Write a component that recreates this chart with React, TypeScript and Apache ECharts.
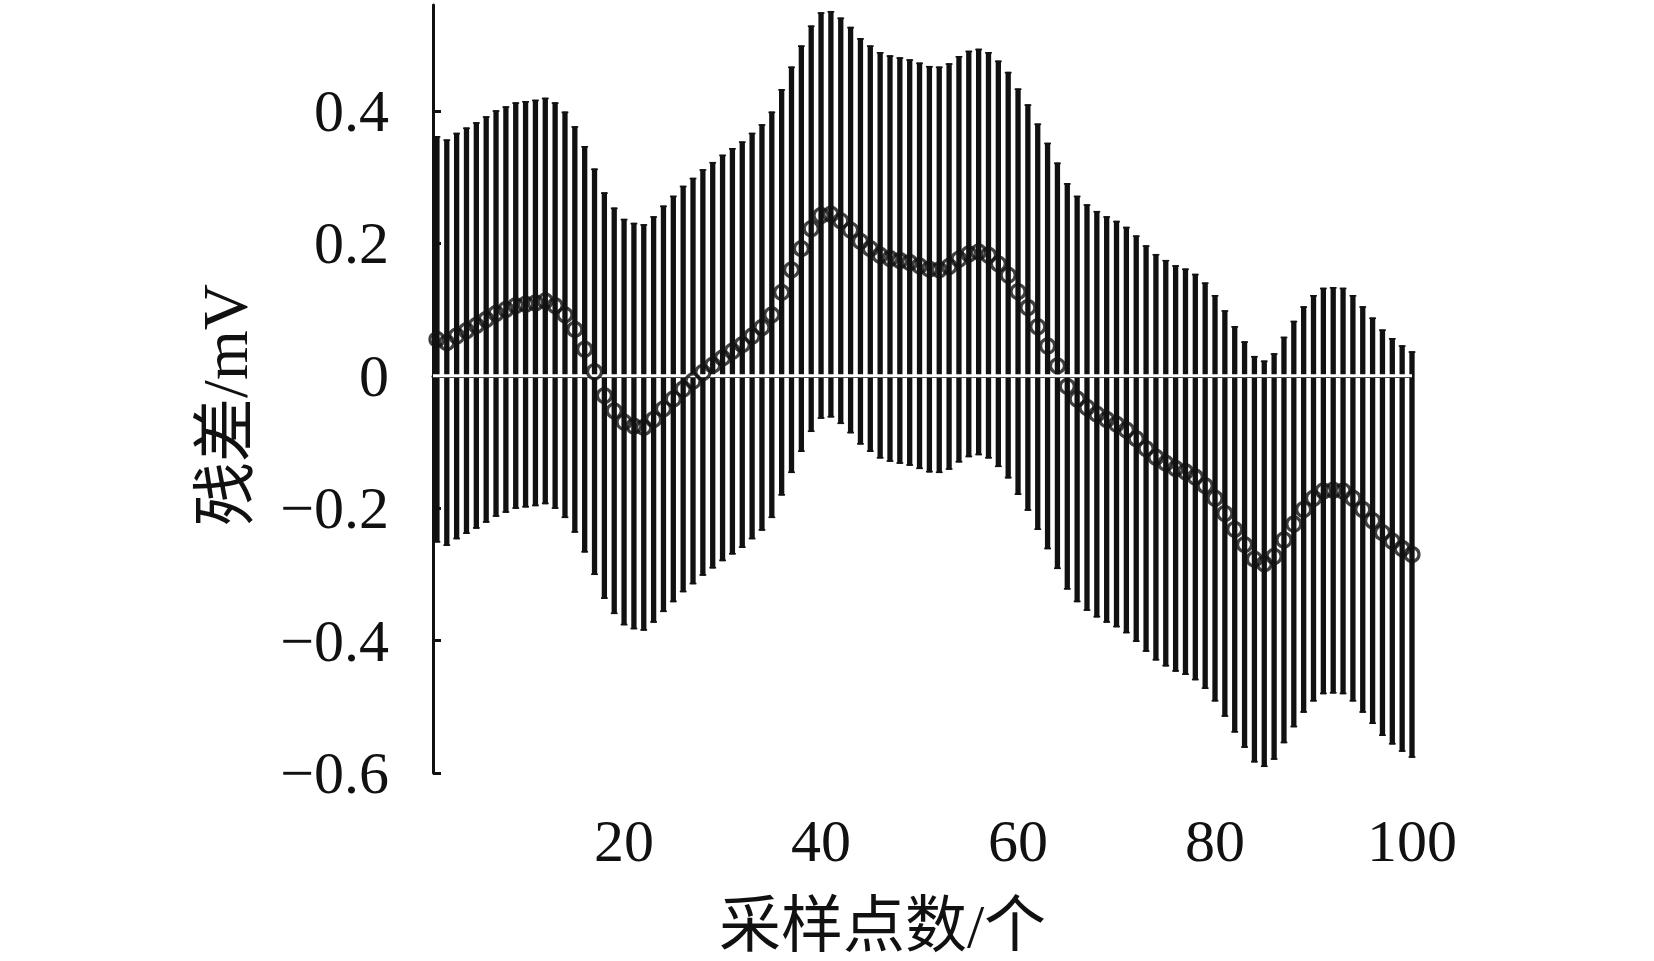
import React, { useEffect, useRef } from "react";
import * as echarts from "echarts";

// Residual (mV) at each sampling point 1..100
const residuals = [
  0.055, 0.05, 0.06, 0.068, 0.076, 0.085, 0.094, 0.1, 0.106, 0.108,
  0.11, 0.113, 0.106, 0.092, 0.07, 0.04, 0.006, -0.03, -0.053, -0.07,
  -0.076, -0.078, -0.066, -0.05, -0.035, -0.02, -0.008, 0.005, 0.016, 0.027,
  0.037, 0.047, 0.06, 0.073, 0.092, 0.126, 0.16, 0.192, 0.222, 0.242,
  0.244, 0.234, 0.22, 0.203, 0.192, 0.182, 0.177, 0.174, 0.171, 0.166,
  0.161, 0.16, 0.165, 0.176, 0.184, 0.187, 0.182, 0.169, 0.152, 0.127,
  0.103, 0.074, 0.045, 0.015, -0.016, -0.035, -0.048, -0.058, -0.066, -0.073,
  -0.082, -0.095, -0.11, -0.123, -0.132, -0.14, -0.145, -0.153, -0.166, -0.185,
  -0.208, -0.232, -0.255, -0.277, -0.284, -0.273, -0.248, -0.224, -0.202, -0.185,
  -0.174, -0.173, -0.174, -0.185, -0.202, -0.219, -0.237, -0.25, -0.261, -0.27,
];

// Half-length of every error bar (mV)
const errorHalfWidth = 0.307;

const xTickValues = [20, 40, 60, 80, 100];
const yTickValues = [-0.6, -0.4, -0.2, 0, 0.2, 0.4];
const xAxisTitle = "采样点数/个";
const yAxisTitle = "残差/mV";

const FONT = '"Liberation Serif", "Noto Sans CJK SC", serif';
const INK = "#111";

export default function App() {
  const ref = useRef<HTMLDivElement>(null);

  useEffect(() => {
    if (!ref.current) return;
    const chart = echarts.init(ref.current, null, { renderer: "svg" });

    const points = residuals.map((v, i) => [i + 1, v]);
    const bars = residuals.map((v, i) => [i + 1, v - errorHalfWidth, v + errorHalfWidth]);

    chart.setOption({
      animation: false,
      backgroundColor: "#fff",
      grid: {
        left: 433,
        right: 242,
        top: 5,
        bottom: 188,
        containLabel: false,
        outerBoundsMode: "none",
      },
      xAxis: {
        type: "value",
        min: 0.6,
        max: 100,
        splitLine: { show: false },
        axisLine: { show: true, lineStyle: { color: INK, width: 3 } },
        axisTick: {
          show: true,
          inside: true,
          length: 8,
          lineStyle: { color: INK, width: 3 },
          customValues: xTickValues,
        },
        axisLabel: {
          customValues: xTickValues,
          margin: 38,
          color: INK,
          fontSize: 60,
          fontFamily: FONT,
        },
        name: xAxisTitle,
        nameLocation: "middle",
        nameGap: 122,
        nameTextStyle: {
          color: INK,
          fontSize: 62,
          fontFamily: FONT,
          padding: [0, 80, 0, 0],
        },
      },
      yAxis: {
        type: "value",
        min: -0.6,
        max: 0.56,
        splitLine: { show: false },
        axisLine: { show: true, lineStyle: { color: INK, width: 3 } },
        axisTick: {
          show: true,
          inside: true,
          length: 8,
          lineStyle: { color: INK, width: 3 },
          customValues: yTickValues,
        },
        axisLabel: {
          customValues: yTickValues,
          margin: 44,
          color: INK,
          fontSize: 60,
          fontFamily: FONT,
          formatter: (v: number) => {
            const r = Math.round(v * 10) / 10;
            if (r === 0) return "0";
            return (r < 0 ? "\u2212" : "") + Math.abs(r).toFixed(1);
          },
        },
        name: yAxisTitle,
        nameLocation: "middle",
        nameGap: 176,
        nameTextStyle: {
          color: INK,
          fontSize: 64,
          fontFamily: FONT,
          padding: [0, 32, 0, 0],
        },
      },
      series: [
        {
          type: "custom",
          data: bars,
          encode: { x: 0, y: [1, 2] },
          z: 2,
          silent: true,
          renderItem: (params: any, api: any) => {
            const x = api.value(0);
            const lo = api.coord([x, api.value(1)]);
            const hi = api.coord([x, api.value(2)]);
            return {
              type: "group",
              children: [
                {
                  type: "line",
                  shape: { x1: lo[0], y1: lo[1], x2: hi[0], y2: hi[1] },
                  style: { stroke: INK, lineWidth: 5.3 },
                },
                {
                  type: "line",
                  shape: { x1: hi[0] - 3.4, y1: hi[1] + 0.8, x2: hi[0] + 3.4, y2: hi[1] + 0.8 },
                  style: { stroke: INK, lineWidth: 1.6 },
                },
                {
                  type: "line",
                  shape: { x1: lo[0] - 3.4, y1: lo[1] - 0.8, x2: lo[0] + 3.4, y2: lo[1] - 0.8 },
                  style: { stroke: INK, lineWidth: 1.6 },
                },
              ],
            };
          },
        },
        {
          type: "line",
          data: [
            [0.6, 0],
            [100, 0],
          ],
          symbol: "none",
          silent: true,
          z: 3,
          lineStyle: { color: "#fff", width: 3 },
        },
        {
          type: "scatter",
          data: points,
          symbol: "circle",
          symbolSize: 14,
          z: 4,
          silent: true,
          itemStyle: {
            color: "rgba(255,255,255,0)",
            borderColor: INK,
            borderWidth: 3.2,
          },
        },
      ],
    });

    return () => chart.dispose();
  }, []);

  return (
    <div
      ref={ref}
      style={{ position: "fixed", left: 0, top: 0, width: 1654, height: 961, background: "#fff" }}
    />
  );
}
